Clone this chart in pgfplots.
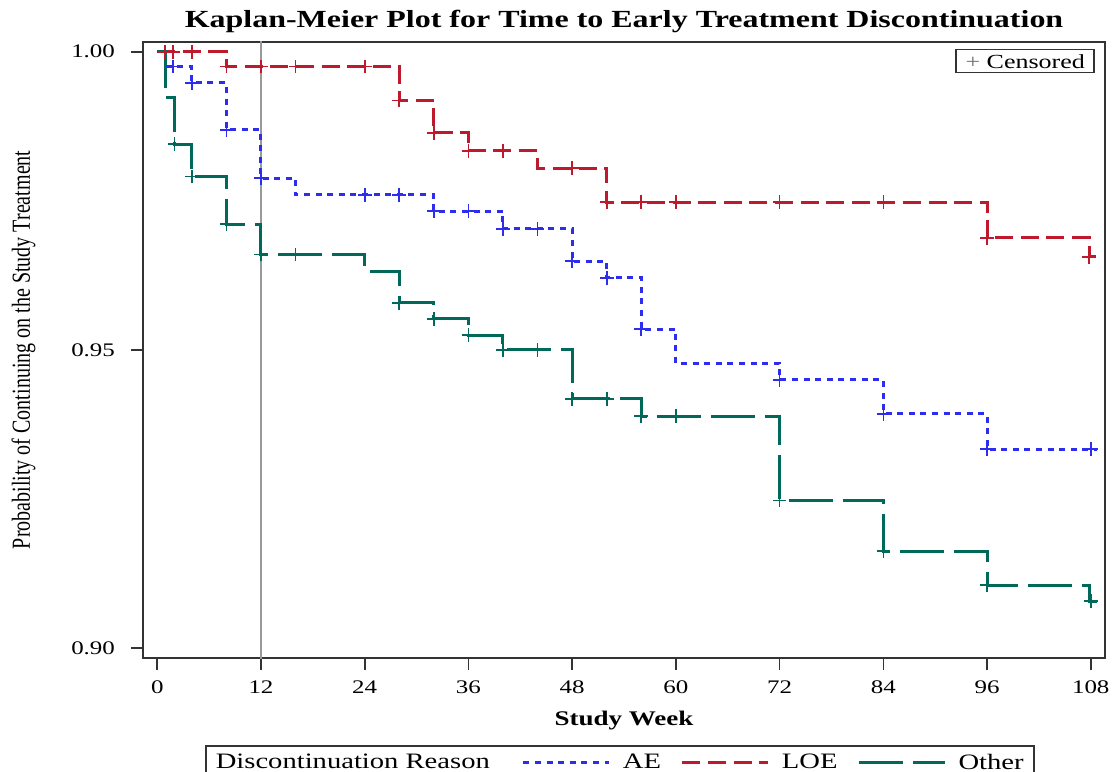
\documentclass[border=0pt]{standalone}
\usepackage{pgfplots}
\pgfplotsset{compat=1.18}
\usepackage{fontspec}
\setmainfont[FakeStretch=1.3]{Liberation Serif}
\newfontfamily\ylabfont[FakeStretch=0.77]{Liberation Serif}
\definecolor{aeblue}{RGB}{45,45,240}
\definecolor{loered}{RGB}{190,25,45}
\definecolor{othgreen}{RGB}{0,105,90}
\begin{document}
\begin{tikzpicture}
\begin{axis}[
  at={(0,0)}, anchor=south west,
  scale only axis, width=481pt, height=308.15pt,
  xmin=-1.65, xmax=109.65, ymin=0.89837, ymax=1.00168,
  xtick={0,12,24,36,48,60,72,84,96,108},
  ytick={0.90,0.95,1.00},
  /pgf/number format/.cd, fixed, fixed zerofill, precision=2, assume math mode=true,
  /pgfplots/.cd,
  xticklabel={\pgfmathprintnumber[fixed,precision=0]{\tick}},
  tick align=outside, xtick pos=bottom, ytick pos=left,
  major tick length=6pt,
  axis line style={line width=1pt, black!80},
  tick style={line width=0.8pt, black!80},
  tick label style={font=\fontsize{9.6}{11}\selectfont},
  yticklabel style={xshift=-4.5pt},
  xticklabel style={yshift=-2pt},
  title={Kaplan-Meier Plot for Time to Early Treatment Discontinuation},
  title style={at={(axis description cs:0.5,1)}, anchor=base, yshift=0.85pt, font=\bfseries\fontsize{12.3}{14}\selectfont},
  xlabel={Study Week},
  xlabel style={at={(axis description cs:0.5,-0.1103)}, anchor=base, font=\bfseries\fontsize{10.4}{12}\selectfont},
  ylabel={Probability of Continuing on the Study Treatment},
  ylabel style={at={(axis description cs:-0.1175,0.5)}, anchor=base, rotate=0, font=\ylabfont\fontsize{13}{15}\selectfont},
  legend columns=4,
  legend style={at={(axis description cs:0.06445,-0.1412)}, anchor=north west,
    draw=black!80, line width=0.8pt, font=\fontsize{11}{13}\selectfont,
    /tikz/every odd column/.append style={column sep=4pt},
    /tikz/every even column/.append style={column sep=8pt}},
  legend cell align=left,
  legend image code/.code={\draw[#1] (0pt,0pt) -- (43pt,0pt);},
]
\addlegendimage{empty legend}
\addlegendentry{\kern-4pt Discontinuation Reason\kern6pt}
\addplot[gray!80, line width=0.7pt, forget plot] coordinates {(12,0.89) (12,1.01)};
% AE
\addplot[const plot mark left, aeblue, line width=1.5pt, dash pattern=on 3pt off 2.8pt] coordinates {
(0,1.0) (1.0,0.9975) (4.0,0.9948) (8.0,0.9869) (12.0,0.9788) (16.0,0.9760)
(32.0,0.9733) (40.0,0.9703) (48.0,0.9649) (52.0,0.9621) (56.0,0.9535)
(60.0,0.9478) (72.0,0.9450) (84.0,0.9393) (96.0,0.9334) (108.7,0.9334)};
\addlegendentry{AE}
% LOE
\addplot[const plot mark left, loered, line width=1.5pt, dash pattern=on 9pt off 3.8pt] coordinates {
(0,1.0) (8,0.9975) (28,0.9918) (32,0.9864) (36,0.9834) (44,0.9805)
(52,0.9748) (96,0.9688) (107.8,0.9656) (108.7,0.9656)};
\addlegendentry{LOE}
% Other
\addplot[const plot mark left, othgreen, line width=1.5pt, dash pattern=on 22pt off 5pt] coordinates {
(0,1.0) (0.9,0.9924) (2.0,0.9845) (4.0,0.9791) (8.0,0.9711) (12.0,0.9660)
(24.0,0.9632) (28.0,0.9579) (32.0,0.9552) (36.0,0.9525) (40.0,0.9500)
(48.0,0.9418) (56.0,0.9389) (72.0,0.9248) (84.0,0.9163) (96.0,0.9106)
(107.8,0.9079) (108.7,0.9079)};
\addlegendentry{Other}
% censored marks
\addplot[only marks, mark=+, mark size=3.4pt, aeblue, line width=0.8pt, forget plot] coordinates {
(1.8,0.9975) (4,0.9948) (8,0.9869) (12,0.9788) (24,0.9760) (28,0.9760)
(32,0.9733) (36,0.9733) (40,0.9703) (44,0.9703) (48,0.9649) (52,0.9621)
(56,0.9535) (72,0.9450) (84,0.9393) (96,0.9334) (108,0.9334)};
\addplot[only marks, mark=+, mark size=3.4pt, loered, line width=0.8pt, forget plot] coordinates {
(0.9,1.0) (1.8,1.0) (4,1.0) (8,0.9975) (12,0.9975) (16,0.9975) (24,0.9975)
(28,0.9918) (32,0.9864) (36,0.9834) (40,0.9834) (48,0.9805) (52,0.9748)
(56,0.9748) (60,0.9748) (72,0.9748) (84,0.9748) (96,0.9688) (107.8,0.9656)};
\addplot[only marks, mark=+, mark size=3.4pt, othgreen, line width=0.8pt, forget plot] coordinates {
(2,0.9845) (4,0.9791) (8,0.9711) (12,0.9660) (16,0.9660) (28,0.9579)
(32,0.9552) (36,0.9525) (40,0.9500) (44,0.9500) (48,0.9418) (52,0.9418)
(56,0.9389) (60,0.9389) (72,0.9248) (84,0.9163) (96,0.9106) (108,0.9079)};
\node[anchor=north east, draw=black!80, line width=0.8pt, minimum width=69pt, minimum height=11.5pt, inner sep=1pt, font=\fontsize{10}{12}\selectfont]
  at ([xshift=-5pt,yshift=-3.6pt]rel axis cs:1,1) {\textcolor{black!55}{+} Censored};
\end{axis}
\pgfresetboundingbox
\path[use as bounding box] (-71.5pt,-56.5pt) rectangle (484.5pt,329pt);
\end{tikzpicture}
\end{document}
